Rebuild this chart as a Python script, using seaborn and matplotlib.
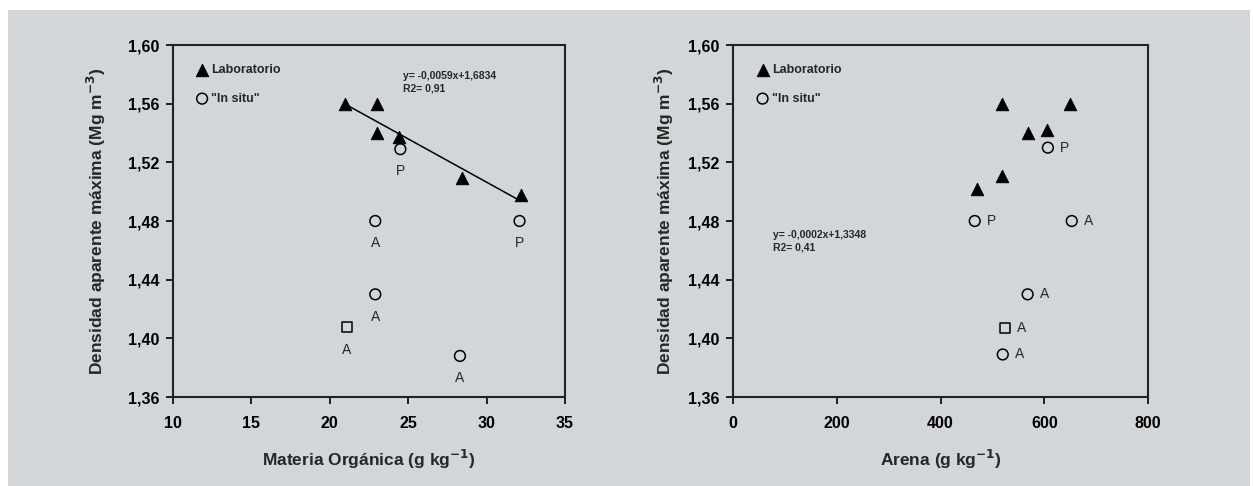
import matplotlib
matplotlib.use("Agg")
import matplotlib.pyplot as plt
from matplotlib.patches import Rectangle
from matplotlib.ticker import FuncFormatter
import seaborn as sns
import pandas as pd

# Datos
mo_lab = [21.0, 23.0, 23.0, 24.4, 28.4, 32.2]
da_lab_mo = [1.560, 1.560, 1.540, 1.537, 1.509, 1.498]

mo_insitu = [24.5, 22.9, 32.1, 22.9, 28.3]
da_insitu_mo = [1.529, 1.480, 1.480, 1.430, 1.388]
etq_insitu_mo = ["P", "A", "P", "A", "A"]
mo_insitu_cuad = [21.1]
da_insitu_cuad_mo = [1.4075]
etq_cuad_mo = ["A"]

arena_lab = [518, 649, 568, 605, 518, 470]
da_lab_ar = [1.560, 1.560, 1.540, 1.542, 1.511, 1.502]

arena_insitu = [607, 466, 653, 568, 520]
da_insitu_ar = [1.530, 1.480, 1.480, 1.430, 1.389]
etq_insitu_ar = ["P", "P", "A", "A", "A"]
arena_insitu_cuad = [524]
da_insitu_cuad_ar = [1.407]
etq_cuad_ar = ["A"]

y_ticks = [1.36, 1.40, 1.44, 1.48, 1.52, 1.56, 1.60]
x_ticks_mo = [10, 15, 20, 25, 30, 35]
x_ticks_ar = [0, 200, 400, 600, 800]

eq_mo = "y= -0,0059x+1,6834\nR2= 0,91"
eq_ar = "y= -0,0002x+1,3348\nR2= 0,41"

sns.set_style("ticks")
plt.rcParams["font.family"] = ["Liberation Sans", "DejaVu Sans"]
plt.rcParams["mathtext.default"] = "bf"
gris = "#d3d6d9"

fig = plt.figure(figsize=(12.53, 4.86), dpi=100, facecolor="white")
fig.patches.append(Rectangle((8 / 1253, 0), 1242 / 1253, 476 / 486,
                             transform=fig.transFigure, facecolor=gris,
                             edgecolor="none", zorder=-10))

ax1 = fig.add_axes([173 / 1253, 1 - 397 / 486, 392 / 1253, 352 / 486])
ax2 = fig.add_axes([733 / 1253, 1 - 397 / 486, 415 / 1253, 352 / 486])

coma = FuncFormatter(lambda v, p: f"{v:.2f}".replace(".", ","))
ylabel = "Densidad aparente máxima (Mg m$^{-3}$)"


def panel(ax, x_lab, y_lab, x_in, y_in, etq_in, x_sq, y_sq, etq_sq,
          xlim, xticks, xlabel, offset, ypad):
    ax.set_facecolor(gris)
    sns.scatterplot(x=x_lab, y=y_lab, marker="^", color="black", s=80,
                    edgecolor="black", ax=ax, label="Laboratorio", zorder=3)
    sns.scatterplot(x=x_in, y=y_in, marker="o", facecolor="none",
                    edgecolor="black", linewidth=1.1, s=60, ax=ax,
                    label='"In situ"', zorder=3)
    sns.scatterplot(x=x_sq, y=y_sq, marker="s", facecolor="none",
                    edgecolor="black", linewidth=1.1, s=55, ax=ax, zorder=3)
    for xs, ys, ts in ((x_in, y_in, etq_in), (x_sq, y_sq, etq_sq)):
        for xv, yv, t in zip(xs, ys, ts):
            ax.annotate(t, (xv, yv), xytext=offset, textcoords="offset points",
                        ha="center", va="center", fontsize=10)
    ax.set_xlim(xlim)
    ax.set_ylim(1.36, 1.60)
    ax.set_xticks(xticks)
    ax.set_yticks(y_ticks)
    ax.yaxis.set_major_formatter(coma)
    ax.tick_params(direction="out", length=5, width=1.2, labelsize=11.5,
                   colors="black", pad=5)
    ax.tick_params(axis="x", pad=9)
    for lab in ax.get_xticklabels() + ax.get_yticklabels():
        lab.set_fontweight("bold")
    for sp in ax.spines.values():
        sp.set_linewidth(1.5)
        sp.set_color("#222222")
    ax.legend(loc="upper left", bbox_to_anchor=(0.02, 0.985), frameon=False,
              prop={"size": 9, "weight": "bold"}, handletextpad=0.15,
              handlelength=1.2, borderaxespad=0.7, labelspacing=1.35)
    ax.set_xlabel(xlabel, fontsize=12.5, fontweight="bold", labelpad=12)
    ax.set_ylabel(ylabel, fontsize=12.5, fontweight="bold", labelpad=ypad)


panel(ax1, mo_lab, da_lab_mo, mo_insitu, da_insitu_mo, etq_insitu_mo,
      mo_insitu_cuad, da_insitu_cuad_mo, etq_cuad_mo,
      (10, 35), x_ticks_mo, "Materia Orgánica (g kg$^{-1}$)", (0, -16), 14)
sns.regplot(x=mo_lab, y=da_lab_mo, ci=None, scatter=False, truncate=True,
            color="black", line_kws={"linewidth": 1.1}, ax=ax1)
ax1.set_xlabel("Materia Orgánica (g kg$^{-1}$)", fontsize=12.5,
               fontweight="bold", labelpad=12)
ax1.set_ylabel(ylabel, fontsize=12.5, fontweight="bold", labelpad=14)
ax1.text(0.587, 0.925, eq_mo, transform=ax1.transAxes, fontsize=7.5,
         fontweight="bold", va="top", linespacing=1.3)

panel(ax2, arena_lab, da_lab_ar, arena_insitu, da_insitu_ar, etq_insitu_ar,
      arena_insitu_cuad, da_insitu_cuad_ar, etq_cuad_ar,
      (0, 800), x_ticks_ar, "Arena (g kg$^{-1}$)", (12, 0), 8)
ax2.text(0.096, 0.475, eq_ar, transform=ax2.transAxes, fontsize=7.5,
         fontweight="bold", va="top", linespacing=1.3)

fig.savefig("out.png", dpi=100, facecolor=fig.get_facecolor())
